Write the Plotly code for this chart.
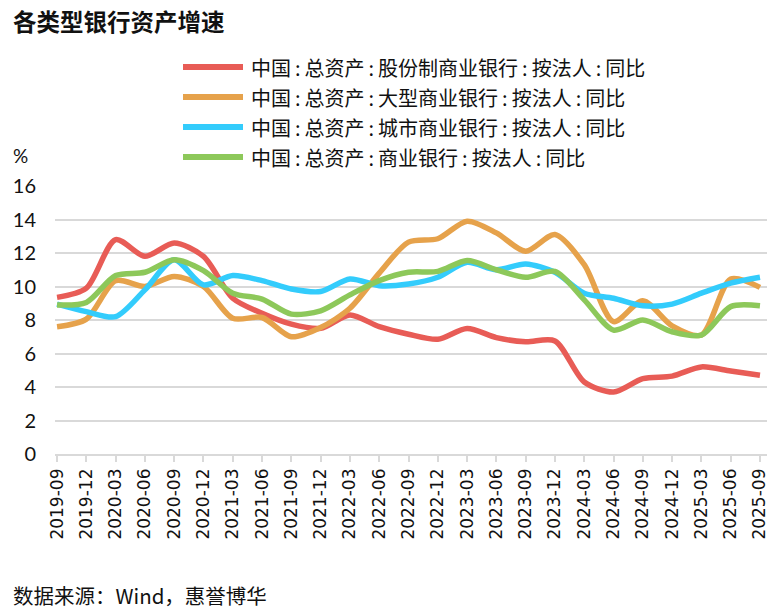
import plotly.graph_objects as go

quarters = ["2019-09", "2019-12", "2020-03", "2020-06", "2020-09", "2020-12",
            "2021-03", "2021-06", "2021-09", "2021-12", "2022-03", "2022-06",
            "2022-09", "2022-12", "2023-03", "2023-06", "2023-09", "2023-12",
            "2024-03", "2024-06", "2024-09", "2024-12", "2025-03", "2025-06",
            "2025-09"]

joint_stock = [9.35, 9.9, 12.8, 11.8, 12.6, 11.8, 9.3, 8.4, 7.75, 7.5, 8.3, 7.6,
               7.15, 6.85, 7.5, 6.95, 6.7, 6.75, 4.3, 3.7, 4.5, 4.65, 5.2, 4.95, 4.7]
large_banks = [7.6, 8.05, 10.35, 10.0, 10.6, 10.0, 8.1, 8.15, 7.0, 7.55, 8.7, 10.8,
               12.65, 12.85, 13.9, 13.2, 12.1, 13.1, 11.3, 7.9, 9.15, 7.65, 7.1, 10.45, 9.95]
city_banks = [8.95, 8.5, 8.2, 9.8, 11.6, 10.1, 10.65, 10.35, 9.85, 9.7, 10.45, 10.05,
              10.15, 10.55, 11.45, 11.0, 11.35, 10.85, 9.6, 9.3, 8.85, 8.95, 9.6, 10.2, 10.55]
commercial = [8.9, 9.05, 10.65, 10.85, 11.6, 10.95, 9.6, 9.25, 8.35, 8.55, 9.5, 10.35,
              10.85, 10.9, 11.55, 11.0, 10.55, 10.9, 9.2, 7.4, 8.0, 7.3, 7.1, 8.8, 8.85]

series_names = ["中国:总资产:股份制商业银行:按法人:同比",
                "中国:总资产:大型商业银行:按法人:同比",
                "中国:总资产:城市商业银行:按法人:同比",
                "中国:总资产:商业银行:按法人:同比"]
series_values = [joint_stock, large_banks, city_banks, commercial]
colors = ["#E85C56", "#E6A24B", "#33CCFC", "#8DC85A"]

y_ticks = [0, 2, 4, 6, 8, 10, 12, 14, 16]

title_text = "各类型银行资产增速"
unit_text = "%"
source_text = "数据来源：Wind，惠誉博华"

W, H = 780, 614
L, R, T, B = 55, 13, 186, 160
PW, PH = W - L - R, H - T - B

def px_x(px):
    return (px - L) / PW

def px_y(py):
    return (H - B - py) / PH

CJK = "Noto Sans CJK SC, Lato, sans-serif"

fig = go.Figure()
for name, vals, col in zip(series_names, series_values, colors):
    fig.add_trace(go.Scatter(
        x=quarters, y=vals, name=name, mode="lines",
        line=dict(color=col, width=5.5, shape="spline", smoothing=0.8),
        showlegend=False,
    ))

shapes = []
annotations = []
for i, (name, col) in enumerate(zip(series_names, colors)):
    yc = 67 + 30 * i
    label = name.replace(":", "\u2009:\u2009")
    shapes.append(dict(type="line", xref="paper", yref="paper",
                       x0=px_x(183), x1=px_x(243), y0=px_y(yc), y1=px_y(yc),
                       line=dict(color=col, width=6)))
    annotations.append(dict(text=label, xref="paper", yref="paper",
                            x=px_x(249), y=px_y(yc), xanchor="left", yanchor="middle",
                            showarrow=False, font=dict(family=CJK, size=20, color="#111111")))

annotations.append(dict(text=f"<b>{title_text}</b>", xref="paper", yref="paper",
                        x=px_x(11), y=px_y(21), xanchor="left", yanchor="middle",
                        showarrow=False, font=dict(family=CJK, size=23.5, color="#111111")))
annotations.append(dict(text=unit_text, xref="paper", yref="paper",
                        x=px_x(11), y=px_y(155), xanchor="left", yanchor="middle",
                        showarrow=False, font=dict(family="Lato, sans-serif", size=19, color="#111111")))
annotations.append(dict(text=source_text, xref="paper", yref="paper",
                        x=px_x(11), y=px_y(595), xanchor="left", yanchor="middle",
                        showarrow=False, font=dict(family=CJK, size=20.5, color="#111111")))

fig.update_layout(
    width=W, height=H,
    margin=dict(l=L, r=R, t=T, b=B, pad=0),
    paper_bgcolor="white", plot_bgcolor="white",
    shapes=shapes, annotations=annotations,
    xaxis=dict(type="category", range=[-0.07, 24.24], tickangle=-90,
               tickfont=dict(family="DejaVu Sans, sans-serif", size=17, color="#111111"),
               showgrid=False, showline=True, linecolor="#D9D9D9", linewidth=1.5,
               ticks="outside", ticklen=6, tickcolor="#D9D9D9", tickwidth=1.5,
               fixedrange=True),
    yaxis=dict(range=[0, 16], tickvals=y_ticks,
               tickfont=dict(family="Lato, sans-serif", size=20, color="#111111"),
               showgrid=True, gridcolor="#D9D9D9", gridwidth=1.5,
               zeroline=False, showline=False, ticks="", ticklabelstandoff=18,
               fixedrange=True),
)

fig.write_html("out.html", config={"displayModeBar": False},
               post_script="document.body.style.margin='0';")
